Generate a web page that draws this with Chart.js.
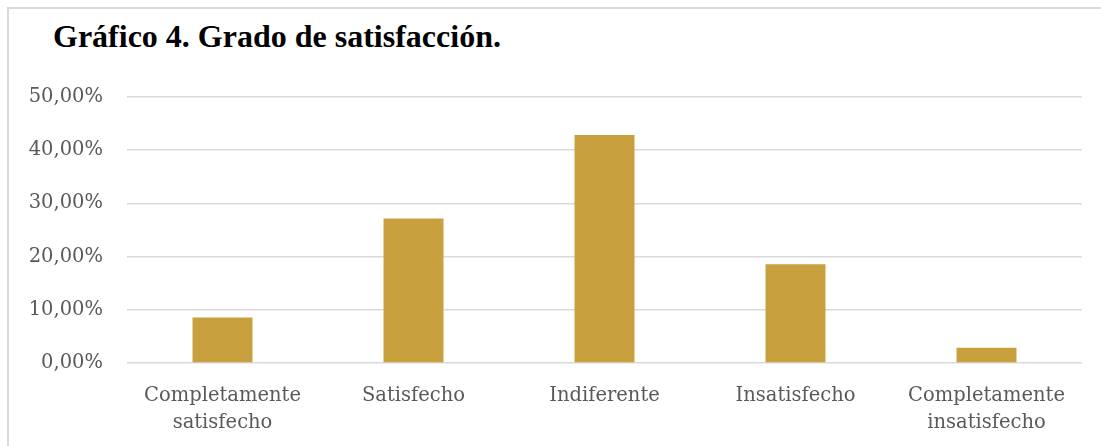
<!DOCTYPE html>
<html lang="es">
<head>
<meta charset="utf-8">
<title>Gráfico 4. Grado de satisfacción</title>
<script src="https://cdn.jsdelivr.net/npm/chart.js@4.4.1/dist/chart.umd.min.js"></script>
<style>
  html, body { margin: 0; padding: 0; background: #fff; }
  body { width: 1101px; height: 446px; position: relative; overflow: hidden; }
  .frame {
    position: absolute; left: 7px; top: 7px; right: -10px; bottom: -10px;
    border-left: 2px solid #d9d9d9; border-top: 2px solid #d9d9d9;
  }
  .title {
    position: absolute; left: 53px; top: 20px;
    font-family: "Liberation Serif", "Times New Roman", serif;
    font-weight: bold; font-size: 32px; line-height: 1; color: #000;
    white-space: nowrap;
  }
  #chart { position: absolute; left: 0; top: 0; }
</style>
</head>
<body>
<div class="frame"></div>
<div class="title">Gráfico 4. Grado de satisfacción.</div>
<canvas id="chart" width="1101" height="446"></canvas>
<script>
  // Datos (porcentajes)
  const CATEGORIAS = [
    ['Completamente', 'satisfecho'],
    'Satisfecho',
    'Indiferente',
    'Insatisfecho',
    ['Completamente', 'insatisfecho'],
  ];
  const PORCENTAJES = [8.57, 27.14, 42.86, 18.57, 2.86];
  const Y_TICKS = [0, 10, 20, 30, 40, 50];

  const GRIS = '#595959';
  const ORO = '#C8A13E';
  const FUENTE = '"DejaVu Serif", "Liberation Serif", serif';

  function pct(v) { return v.toFixed(2).replace('.', ',') + '%'; }

  new Chart(document.getElementById('chart'), {
    type: 'bar',
    data: {
      labels: CATEGORIAS,
      datasets: [{
        data: PORCENTAJES,
        backgroundColor: ORO,
        borderWidth: 0,
        categoryPercentage: 1,
        barPercentage: 0.314,
      }],
    },
    options: {
      responsive: false,
      animation: false,
      layout: { padding: { left: 0, top: 97, right: 19, bottom: 0 } },
      plugins: { legend: { display: false }, tooltip: { enabled: false }, title: { display: false } },
      scales: {
        x: {
          grid: { display: false },
          border: { display: false },
          ticks: { color: GRIS, font: { family: FUENTE, size: 19.5, lineHeight: 1.4 }, padding: 11, maxRotation: 0, autoSkip: false },
          afterFit: function (s) { s.height = 83; },
        },
        y: {
          min: 0, max: 50,
          afterBuildTicks: function (s) { s.ticks = Y_TICKS.map(function (v) { return { value: v }; }); },
          grid: { color: '#d9d9d9', lineWidth: 1.5, drawTicks: false },
          border: { display: false },
          ticks: { color: GRIS, font: { family: FUENTE, size: 19.5 }, padding: 24, callback: function (v) { return pct(v); } },
          afterFit: function (s) { s.width = 127; },
        },
      },
    },
  });
</script>
</body>
</html>
